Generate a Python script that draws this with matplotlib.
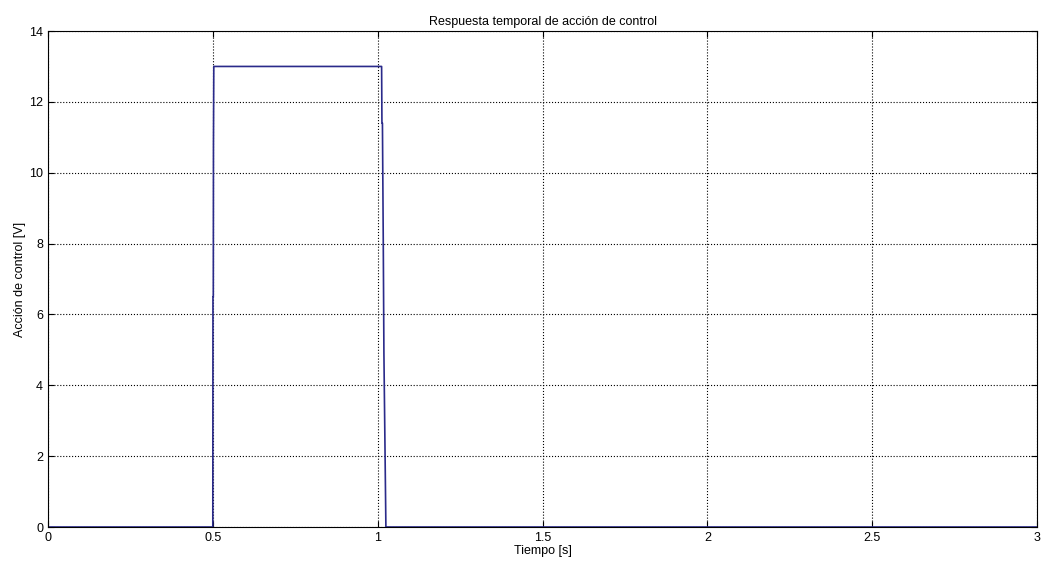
import matplotlib
matplotlib.use("Agg")
import matplotlib.pyplot as plt

t = [0.0, 0.5, 0.5005, 0.5015, 0.502, 0.503, 1.012, 1.013, 1.0145, 1.017, 1.019, 1.025, 3.0]
u = [0.0, 0.0, 6.5, 6.5, 10.8, 13.0, 13.0, 11.4, 11.4, 8.1, 4.9, 0.0, 0.0]

xticks = [0, 0.5, 1, 1.5, 2, 2.5, 3]
xticklabels = ["0", "0.5", "1", "1.5", "2", "2.5", "3"]
yticks = [0, 2, 4, 6, 8, 10, 12, 14]

plt.rcParams['font.family'] = ['Liberation Sans', 'DejaVu Sans']
fig = plt.figure(figsize=(10.47, 5.64), dpi=100)
ax = fig.add_axes([0.0458, 0.0656, 0.9447, 0.8794])
ax.plot(t, u, color='#2a2a8a', lw=1.2)
ax.set_xlim(0, 3)
ax.set_ylim(0, 14)
ax.set_xticks(xticks)
ax.set_xticklabels(xticklabels)
ax.set_yticks(yticks)
ax.grid(True, linestyle=':', color='black', lw=0.8)
ax.tick_params(direction='in', top=True, right=True, labelsize=9, length=4)
for s in ax.spines.values():
    s.set_linewidth(0.8)
ax.set_title("Respuesta temporal de acción de control", fontsize=9, pad=4)
ax.set_xlabel("Tiempo [s]", fontsize=9, labelpad=1)
ax.set_ylabel("Acción de control [V]", fontsize=9, labelpad=2)
fig.savefig("out.png", dpi=100)
